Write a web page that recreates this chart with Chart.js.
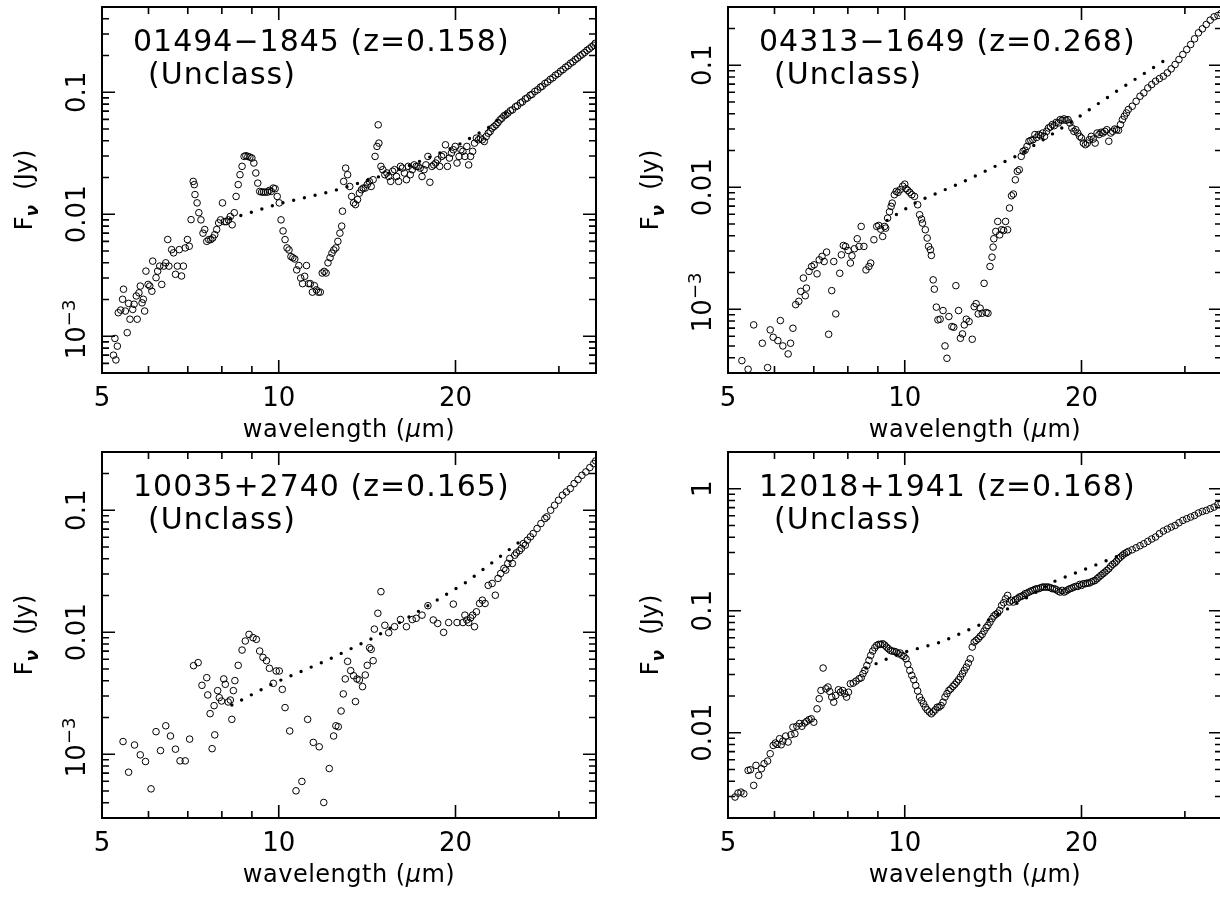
<!DOCTYPE html>
<html>
<head>
<meta charset="utf-8">
<script src="https://cdn.jsdelivr.net/npm/chart.js@4.4.1/dist/chart.umd.min.js"></script>
<style>
  html, body { margin: 0; padding: 0; background: #fff; overflow: hidden; }
  body { width: 1220px; height: 898px; position: relative; }
  canvas { position: absolute; }
</style>
</head>
<body>
<canvas id="p1" width="610" height="450" style="left:0;top:0"></canvas>
<canvas id="p2" width="620" height="450" style="left:610px;top:0"></canvas>
<canvas id="p3" width="610" height="450" style="left:0;top:445px"></canvas>
<canvas id="p4" width="620" height="450" style="left:610px;top:445px"></canvas>
<script>
// eje x común (longitud de onda, µm)
const xLabelTicks = [5, 10, 20];
const xMajorTicks = [10, 20];
const xMinorTicks = [6, 7, 8, 9, 30];

// ---- 01494-1845 ----
const lam01494 = [5.23, 5.28, 5.26, 5.31, 5.33, 5.38, 5.42, 5.44, 5.48, 5.52,
  5.55, 5.58, 5.64, 5.67, 5.72, 5.74, 5.78, 5.81, 5.85, 5.88,
  5.91, 5.94, 5.99, 6.03, 6.08, 6.10, 6.18, 6.22, 6.27, 6.32,
  6.37, 6.42, 6.47, 6.50, 6.57, 6.62, 6.67, 6.72, 6.77, 6.83,
  6.88, 6.93, 6.99, 7.04, 7.09, 7.15, 7.18, 7.20, 7.26, 7.31,
  7.37, 7.43, 7.48, 7.54, 7.60, 7.66, 7.72, 7.78, 7.84, 7.90,
  7.96, 8.02, 8.08, 8.14, 8.21, 8.27, 8.33, 8.40, 8.46, 8.53,
  8.59, 8.66, 8.73, 8.79, 8.86, 8.93, 9.00, 9.07, 9.14, 9.21,
  9.28, 9.35, 9.42, 9.49, 9.57, 9.64, 9.71, 9.79, 9.86, 9.94,
  10.02, 10.09, 10.17, 10.25, 10.33, 10.41, 10.49, 10.57, 10.65, 10.73,
  10.82, 10.90, 10.98, 11.07, 11.15, 11.24, 11.32, 11.41, 11.50, 11.59,
  11.68, 11.77, 11.86, 11.95, 12.04, 12.13, 12.23, 12.32, 12.41, 12.51,
  12.61, 12.71, 12.80, 12.84, 12.90, 13.00, 13.10, 13.21, 13.31, 13.41,
  13.51, 13.62, 13.72, 13.83, 13.93, 14.04, 14.15, 14.26, 14.37, 14.48,
  14.59, 14.70, 14.81, 14.77, 14.93, 15.04, 15.16, 15.28, 15.39, 15.51,
  15.63, 15.75, 15.87, 16.00, 16.12, 16.24, 16.37, 16.50, 16.62, 16.75,
  16.88, 17.01, 17.14, 17.27, 17.41, 17.54, 17.68, 17.81, 17.95, 18.09,
  18.23, 18.37, 18.51, 18.65, 18.80, 18.94, 19.09, 19.23, 19.38, 19.53,
  19.68, 19.83, 19.98, 20.12, 20.28, 20.43, 20.59, 20.75, 20.91, 21.06,
  21.22, 21.39, 21.55, 21.71, 21.88, 22.05, 22.22, 22.39, 22.56, 22.74,
  22.91, 23.09, 23.27, 23.45, 23.63, 23.81, 23.99, 24.18, 24.36, 24.55,
  24.8, 25.0, 25.3, 25.5, 25.8, 26.0, 26.3, 26.5, 26.8, 27.0,
  27.3, 27.6, 27.9, 28.1, 28.4, 28.7, 29.0, 29.3, 29.6, 29.9,
  30.2, 30.5, 30.8, 31.1, 31.4, 31.7, 32.0, 32.3, 32.6, 32.9,
  33.2, 33.5, 33.8, 34.1, 34.4, 34.6];
const flux01494 = [0.00070, 0.00064, 0.00096, 0.00083, 0.00156, 0.00164, 0.00201, 0.00243, 0.00161, 0.00107,
  0.00186, 0.00138, 0.00166, 0.00183, 0.00214, 0.00138, 0.00227, 0.00258, 0.00188, 0.00201,
  0.00161, 0.00342, 0.00266, 0.00258, 0.00234, 0.00413, 0.00302, 0.00342, 0.00376, 0.00266,
  0.00376, 0.00400, 0.00621, 0.00376, 0.00513, 0.00483, 0.00322, 0.00376, 0.00513, 0.00312,
  0.00376, 0.00530, 0.00621, 0.00547, 0.00904, 0.0186, 0.0175, 0.0145, 0.0124, 0.0103,
  0.0090, 0.0070, 0.0075, 0.0060, 0.0062, 0.0062, 0.0064, 0.0068, 0.0075, 0.0085,
  0.0090, 0.0124, 0.0087, 0.0087, 0.0090, 0.0096, 0.0082, 0.0103, 0.0140, 0.0175,
  0.0211, 0.0247, 0.0298, 0.0302, 0.0298, 0.0294, 0.0289, 0.0263, 0.0218, 0.0180,
  0.0154, 0.0152, 0.0152, 0.0152, 0.0152, 0.0157, 0.0154, 0.0164, 0.0162, 0.0140,
  0.0124, 0.0090, 0.0073, 0.0062, 0.0053, 0.0051, 0.0045, 0.0044, 0.0043, 0.0035,
  0.0038, 0.0030, 0.0027, 0.0031, 0.0038, 0.0027, 0.0027, 0.0023, 0.0026, 0.0024,
  0.0023, 0.0023, 0.0033, 0.0034, 0.0033, 0.0040, 0.0044, 0.0048, 0.0051, 0.0053,
  0.0060, 0.0070, 0.0080, 0.0106, 0.0186, 0.0239, 0.0211, 0.0169, 0.0140, 0.0124,
  0.0120, 0.0132, 0.0149, 0.0159, 0.0164, 0.0164, 0.0175, 0.0186, 0.0169, 0.0192,
  0.0298, 0.0360, 0.0383, 0.0541, 0.0247, 0.0232, 0.0211, 0.0218, 0.0204, 0.0186,
  0.0225, 0.0232, 0.0204, 0.0186, 0.0247, 0.0239, 0.0218, 0.0192, 0.0247, 0.0211,
  0.0232, 0.0254, 0.0247, 0.0247, 0.0239, 0.0204, 0.0232, 0.0254, 0.0298, 0.0183,
  0.0247, 0.0254, 0.0263, 0.0280, 0.0247, 0.0298, 0.0307, 0.0371, 0.0247, 0.0289,
  0.0317, 0.0338, 0.0360, 0.0263, 0.0298, 0.0338, 0.0328, 0.0298, 0.0360, 0.0254,
  0.0298, 0.0328, 0.0383, 0.0421, 0.0408, 0.0421, 0.0408, 0.0395, 0.0434, 0.0462,
  0.0477, 0.0508, 0.0524, 0.0541, 0.0565, 0.0594, 0.0613, 0.0641, 0.0653, 0.0674,
  0.0705, 0.0718, 0.0760, 0.0775, 0.0818, 0.0835, 0.0882, 0.0898, 0.0945, 0.0962,
  0.1015, 0.1048, 0.1102, 0.1120, 0.1180, 0.1215, 0.1275, 0.1315, 0.1380, 0.1420,
  0.1490, 0.1535, 0.1605, 0.1650, 0.1730, 0.1775, 0.1855, 0.1910, 0.1990, 0.2050,
  0.2120, 0.2210, 0.2270, 0.2360, 0.2430, 0.2520];
const fitLam01494 = [8.27, 10.0, 12.3, 14.6, 16.8, 20.0, 22.7, 24.7];
const fitFlux01494 = [0.0092, 0.0122, 0.0154, 0.0198, 0.0254, 0.0360, 0.0508, 0.0717];

// ---- 04313-1649 ----
const lam04313 = [5.28, 5.41, 5.53, 5.72, 5.84, 5.90, 5.97, 6.08, 6.14, 6.20,
  6.33, 6.39, 6.45, 6.52, 6.60, 6.65, 6.72, 6.77, 6.80, 6.87,
  6.94, 7.01, 7.09, 7.15, 7.23, 7.29, 7.36, 7.42, 7.51, 7.57,
  7.63, 7.75, 7.80, 7.86, 7.93, 8.01, 8.08, 8.13, 8.21, 8.30,
  8.36, 8.43, 8.52, 8.59, 8.69, 8.75, 8.86, 8.96, 9.03, 9.10,
  9.17, 9.24, 9.28, 9.35, 9.42, 9.48, 9.52, 9.60, 9.67, 9.74,
  9.82, 9.92, 10.0, 10.05, 10.12, 10.20, 10.28, 10.39, 10.52, 10.60,
  10.68, 10.72, 10.84, 10.92, 10.98, 11.06, 11.10, 11.18, 11.23, 11.32,
  11.39, 11.49, 11.62, 11.71, 11.80, 11.89, 12.03, 12.12, 12.22, 12.35,
  12.44, 12.54, 12.63, 12.73, 12.87, 13.03, 13.13, 13.23, 13.34, 13.44,
  13.55, 13.65, 13.76, 13.86, 13.97, 14.08, 14.14, 14.18, 14.29, 14.40,
  14.51, 14.62, 14.74, 14.85, 14.97, 15.08, 15.20, 15.31, 15.43, 15.55,
  15.67, 15.79, 15.91, 16.03, 16.15, 16.28, 16.40, 16.53, 16.66, 16.78,
  16.91, 17.04, 17.17, 17.30, 17.44, 17.57, 17.71, 17.84, 17.98, 18.12,
  18.26, 18.40, 18.54, 18.68, 18.82, 18.97, 19.11, 19.26, 19.41, 19.56,
  19.71, 19.86, 20.0, 20.15, 20.31, 20.46, 20.62, 20.78, 20.94, 21.10,
  21.26, 21.42, 21.59, 21.75, 21.92, 22.09, 22.26, 22.43, 22.60, 22.78,
  22.95, 23.13, 23.30, 23.48, 23.66, 23.85, 24.03, 24.40, 24.78, 25.16,
  25.54, 25.94, 26.34, 26.74, 27.15, 27.57, 28.00, 28.43, 28.87, 29.31,
  29.76, 30.22, 30.69, 31.16, 31.64, 32.13, 32.62, 33.13, 33.64, 34.16,
  34.58];
const flux04313 = [0.000379, 0.000322, 0.000744, 0.000526, 0.000332, 0.000677, 0.000589, 0.000553, 0.000807, 0.000500,
  0.000430, 0.000526, 0.000698, 0.00109, 0.00116, 0.00140, 0.00180, 0.00129, 0.00149, 0.00204,
  0.00224, 0.00231, 0.00195, 0.00254, 0.00271, 0.00246, 0.00294, 0.000623, 0.00142, 0.00246,
  0.000916, 0.00197, 0.00279, 0.00333, 0.00327, 0.00303, 0.00239, 0.00274, 0.00313, 0.00378,
  0.00327, 0.00477, 0.00327, 0.00210, 0.00224, 0.00239, 0.00371, 0.00477, 0.00486, 0.00453,
  0.00395, 0.00477, 0.00462, 0.00558, 0.00629, 0.00696, 0.00741, 0.00868, 0.00924, 0.00907,
  0.00954, 0.0102, 0.0106, 0.00972, 0.00942, 0.00907, 0.00868, 0.00841, 0.00718, 0.00595,
  0.00548, 0.00508, 0.00448, 0.00383, 0.00327, 0.00307, 0.00276, 0.00174, 0.00146, 0.00104,
  0.000818, 0.000828, 0.000975, 0.000500, 0.000396, 0.000871, 0.000721, 0.000712, 0.00156, 0.000975,
  0.000578, 0.000627, 0.000744, 0.000828, 0.000792, 0.000567, 0.00105, 0.00111, 0.000916, 0.00102,
  0.000927, 0.00163, 0.000939, 0.000927, 0.00224, 0.00267, 0.00323, 0.00378, 0.00434, 0.00524,
  0.00407, 0.00448, 0.00442, 0.00524, 0.00448, 0.00675, 0.00851, 0.00879, 0.0115, 0.0135,
  0.0139, 0.0179, 0.0197, 0.0201, 0.0216, 0.0238, 0.0242, 0.0245, 0.0270, 0.0256,
  0.0270, 0.0265, 0.0278, 0.0261, 0.0287, 0.0306, 0.0312, 0.0326, 0.0320, 0.0340,
  0.0336, 0.0358, 0.0354, 0.0363, 0.0354, 0.0358, 0.0336, 0.0306, 0.0287, 0.0296,
  0.0278, 0.0261, 0.0253, 0.0230, 0.0223, 0.0230, 0.0245, 0.0261, 0.0248, 0.0230,
  0.0278, 0.0270, 0.0282, 0.0278, 0.0287, 0.0296, 0.0238, 0.0278, 0.0287, 0.0300,
  0.0296, 0.0293, 0.0326, 0.0358, 0.0382, 0.0406, 0.0433, 0.0461, 0.0506, 0.0557,
  0.0593, 0.0651, 0.0694, 0.0739, 0.0777, 0.0812, 0.0865, 0.0933, 0.1013, 0.1113,
  0.1224, 0.1344, 0.1478, 0.1645, 0.1842, 0.1987, 0.2157, 0.2341, 0.2492, 0.2557,
  0.2655];
const fitLam04313 = [9.33, 10.52, 12.44, 15.67, 19.11, 22.95, 28.43];
const fitFlux04313 = [0.00535, 0.00765, 0.0108, 0.0185, 0.0336, 0.0612, 0.1186];

// ---- 10035+2740 ----
const lam10035 = [5.43, 5.55, 5.68, 5.81, 5.93, 6.06, 6.18, 6.29, 6.42, 6.54,
  6.67, 6.79, 6.93, 7.05, 7.16, 7.29, 7.40, 7.54, 7.57, 7.64,
  7.70, 7.76, 7.78, 7.87, 7.92, 7.99, 8.06, 8.11, 8.20, 8.27,
  8.32, 8.37, 8.42, 8.53, 8.66, 8.77, 8.90, 9.04, 9.16, 9.28,
  9.40, 9.53, 9.64, 9.90, 10.02, 9.79, 10.14, 10.25, 10.44, 10.70,
  10.95, 11.20, 11.45, 11.72, 11.93, 12.19, 12.40, 12.51, 12.63, 12.77,
  12.88, 12.98, 13.10, 13.26, 13.41, 13.51, 13.59, 13.72, 13.89, 14.04,
  14.15, 14.28, 14.37, 14.48, 14.55, 14.75, 14.93, 15.16, 15.39, 15.75,
  16.12, 16.50, 16.88, 17.14, 17.54, 17.95, 18.33, 18.65, 19.09, 19.47,
  19.83, 20.12, 20.59, 20.75, 20.91, 21.06, 21.22, 21.39, 21.55, 21.71,
  21.98, 22.22, 22.46, 22.74, 23.09, 23.38, 23.63, 23.88, 24.18, 24.36,
  24.55, 24.74, 25.00, 25.23, 25.39, 25.70, 25.90, 26.10, 26.30, 26.51,
  26.83, 27.12, 27.54, 27.96, 28.40, 28.61, 29.05, 29.50, 29.96, 30.42,
  30.89, 31.37, 31.85, 32.34, 32.84, 33.35, 33.87, 34.39, 34.66];
const flux10035 = [0.00127, 0.000712, 0.00119, 0.000988, 0.000871, 0.000520, 0.00153, 0.00107, 0.00171, 0.00141,
  0.00110, 0.000882, 0.000882, 0.00133, 0.00532, 0.00563, 0.00367, 0.00424, 0.00306, 0.00215,
  0.00111, 0.00250, 0.00144, 0.00332, 0.00291, 0.00273, 0.00414, 0.00374, 0.00268, 0.00278,
  0.00193, 0.00332, 0.00401, 0.00535, 0.00714, 0.00847, 0.00960, 0.00902, 0.00874, 0.00701,
  0.00622, 0.00584, 0.00506, 0.00481, 0.00481, 0.00381, 0.00340, 0.00241, 0.00155, 0.000501,
  0.000598, 0.00193, 0.00125, 0.00115, 0.000402, 0.000763, 0.00141, 0.00171, 0.00168, 0.00226,
  0.00312, 0.00414, 0.00577, 0.00484, 0.00440, 0.00270, 0.00414, 0.00406, 0.00358, 0.00446,
  0.00535, 0.00746, 0.00723, 0.00584, 0.0106, 0.0143, 0.0215, 0.0114, 0.00991, 0.0111,
  0.0127, 0.0111, 0.0127, 0.0130, 0.0138, 0.0165, 0.0126, 0.0118, 0.00997, 0.0120,
  0.0170, 0.0120, 0.0120, 0.0138, 0.0126, 0.0120, 0.0131, 0.0138, 0.0111, 0.0147,
  0.0172, 0.0183, 0.0172, 0.0242, 0.0251, 0.0201, 0.0276, 0.0303, 0.0333, 0.0323,
  0.0366, 0.0402, 0.0366, 0.0428, 0.0447, 0.0465, 0.0486, 0.0533, 0.0517, 0.0568,
  0.0605, 0.0644, 0.0708, 0.0778, 0.0855, 0.0882, 0.100, 0.1099, 0.1207, 0.1327,
  0.1413, 0.1505, 0.1653, 0.1782, 0.1934, 0.2060, 0.2236, 0.2409, 0.2534];
const fitLam10035 = [8.32, 9.79, 12.04, 14.63, 17.95, 20.91, 26.10];
const fitFlux10035 = [0.00253, 0.00381, 0.00584, 0.00919, 0.0165, 0.0259, 0.0582];

// ---- 12018+1941 ----
const lam12018 = [5.14, 5.20, 5.26, 5.32, 5.41, 5.46, 5.53, 5.58, 5.64, 5.70,
  5.76, 5.84, 5.90, 5.97, 6.02, 6.06, 6.12, 6.16, 6.20, 6.27,
  6.33, 6.40, 6.45, 6.50, 6.55, 6.62, 6.68, 6.75, 6.81, 6.87,
  6.93, 7.00, 7.09, 7.15, 7.20, 7.26, 7.34, 7.40, 7.45, 7.51,
  7.57, 7.63, 7.71, 7.77, 7.84, 7.90, 7.96, 8.02, 8.08, 8.17,
  8.26, 8.36, 8.43, 8.49, 8.55, 8.62, 8.69, 8.75, 8.82, 8.89,
  8.96, 9.03, 9.10, 9.17, 9.24, 9.31, 9.38, 9.45, 9.52, 9.60,
  9.67, 9.74, 9.82, 9.89, 9.97, 10.05, 10.12, 10.20, 10.28, 10.36,
  10.44, 10.52, 10.60, 10.68, 10.76, 10.84, 10.92, 11.01, 11.10, 11.18,
  11.27, 11.36, 11.44, 11.53, 11.62, 11.71, 11.80, 11.89, 11.98, 12.08,
  12.17, 12.26, 12.35, 12.44, 12.54, 12.63, 12.73, 12.83, 12.93, 13.03,
  13.13, 13.23, 13.34, 13.44, 13.55, 13.65, 13.76, 13.86, 13.97, 14.08,
  14.18, 14.29, 14.40, 14.51, 14.62, 14.74, 14.85, 14.97, 15.08, 15.20,
  15.31, 15.43, 15.55, 15.67, 15.79, 15.91, 16.03, 16.15, 16.28, 16.40,
  16.53, 16.66, 16.78, 16.91, 17.04, 17.17, 17.30, 17.44, 17.57, 17.71,
  17.84, 17.98, 18.12, 18.26, 18.40, 18.54, 18.68, 18.82, 18.97, 19.11,
  19.26, 19.41, 19.56, 19.71, 19.86, 20.00, 20.15, 20.31, 20.46, 20.62,
  20.78, 20.94, 21.10, 21.26, 21.42, 21.59, 21.75, 21.92, 22.09, 22.26,
  22.43, 22.60, 22.78, 22.95, 23.13, 23.30, 23.48, 23.66, 23.85, 24.03,
  24.40, 24.78, 25.16, 25.54, 25.94, 26.34, 26.74, 27.15, 27.57, 28.00,
  28.43, 28.87, 29.31, 29.76, 30.22, 30.69, 31.16, 31.64, 32.13, 32.62,
  33.13, 33.64, 34.16, 34.58];
const flux12018 = [0.00297, 0.00320, 0.00326, 0.00316, 0.00491, 0.00497, 0.00370, 0.00540, 0.00447, 0.00507,
  0.00557, 0.00586, 0.00673, 0.00787, 0.00823, 0.00802, 0.00893, 0.00797, 0.00855, 0.00939,
  0.00839, 0.00963, 0.0111, 0.00981, 0.0113, 0.0119, 0.0113, 0.0120, 0.0124, 0.0128,
  0.0130, 0.0122, 0.0157, 0.0190, 0.0222, 0.0339, 0.0229, 0.0237, 0.0218, 0.0196,
  0.0178, 0.0202, 0.0225, 0.0215, 0.0222, 0.0209, 0.0196, 0.0215, 0.0252, 0.0255,
  0.0265, 0.0277, 0.0282, 0.0305, 0.0324, 0.0356, 0.0392, 0.0430, 0.0467, 0.0497,
  0.0520, 0.0530, 0.0530, 0.0536, 0.0523, 0.0504, 0.0488, 0.0473, 0.0467, 0.0464,
  0.0458, 0.0444, 0.0450, 0.0430, 0.0422, 0.0404, 0.0363, 0.0324, 0.0295, 0.0272,
  0.0244, 0.0220, 0.0196, 0.0184, 0.0173, 0.0162, 0.0154, 0.0148, 0.0143, 0.0148,
  0.0154, 0.0162, 0.0162, 0.0167, 0.0178, 0.0196, 0.0209, 0.0222, 0.0229, 0.0240,
  0.0249, 0.0260, 0.0272, 0.0286, 0.0305, 0.0324, 0.0345, 0.0372, 0.0404, 0.0504,
  0.0553, 0.0571, 0.0589, 0.0616, 0.0640, 0.0681, 0.0726, 0.0758, 0.0807, 0.0860,
  0.0904, 0.0933, 0.0957, 0.1006, 0.1106, 0.1163, 0.1254, 0.1335, 0.1178, 0.1215,
  0.1178, 0.1231, 0.1254, 0.1294, 0.1310, 0.1335, 0.1378, 0.1395, 0.1422, 0.1449,
  0.1468, 0.1496, 0.1515, 0.1515, 0.1543, 0.1563, 0.1563, 0.1563, 0.1563, 0.1543,
  0.1515, 0.1515, 0.1486, 0.1449, 0.1422, 0.1468, 0.1422, 0.1449, 0.1486, 0.1515,
  0.1534, 0.1563, 0.1583, 0.1583, 0.1643, 0.1613, 0.1665, 0.1665, 0.1686, 0.1686,
  0.172, 0.175, 0.177, 0.183, 0.189, 0.195, 0.201, 0.207, 0.214, 0.221,
  0.231, 0.240, 0.246, 0.255, 0.267, 0.275, 0.284, 0.293, 0.299, 0.306,
  0.316, 0.328, 0.341, 0.354, 0.370, 0.387, 0.402, 0.428, 0.450, 0.467,
  0.485, 0.500, 0.526, 0.550, 0.568, 0.586, 0.604, 0.632, 0.652, 0.664,
  0.686, 0.707, 0.744, 0.763];
const fitLam12018 = [8.59, 9.77, 11.53, 13.55, 17.98, 23.23];
const fitFlux12018 = [0.0339, 0.0444, 0.0553, 0.0782, 0.174, 0.284];

// etiquetas del eje y (valor, texto, superíndice)
const yTicks3 = [0.1, 0.01, 0.001];
const yTickText3 = ['0.1', '0.01', '10^−3'];
const yTicks4 = [1, 0.1, 0.01];
const yTickText4 = ['1', '0.1', '0.01'];

const FONT = '"DejaVu Sans", "Liberation Sans", sans-serif';

const panels = [
  { id: 'p1', name: '01494−1845', z: '0.158', lam: lam01494, flux: flux01494,
    fitLam: fitLam01494, fitFlux: fitFlux01494, yMin: 5e-4, yMax: 0.5,
    yTicks: yTicks3, yText: yTickText3, axisWidth: 102, padRight: 14 },
  { id: 'p2', name: '04313−1649', z: '0.268', lam: lam04313, flux: flux04313,
    fitLam: fitLam04313, fitFlux: fitFlux04313, yMin: 3e-4, yMax: 0.3,
    yTicks: yTicks3, yText: yTickText3, axisWidth: 118, padRight: 8 },
  { id: 'p3', name: '10035+2740', z: '0.165', lam: lam10035, flux: flux10035,
    fitLam: fitLam10035, fitFlux: fitFlux10035, yMin: 3e-4, yMax: 0.3,
    yTicks: yTicks3, yText: yTickText3, axisWidth: 102, padRight: 14 },
  { id: 'p4', name: '12018+1941', z: '0.168', lam: lam12018, flux: flux12018,
    fitLam: fitLam12018, fitFlux: fitFlux12018, yMin: 2e-3, yMax: 2,
    yTicks: yTicks4, yText: yTickText4, axisWidth: 118, padRight: 8 }
];

function toPoints(xs, ys) {
  return xs.map((v, i) => ({ x: v, y: ys[i] }));
}

// dibuja varias piezas de texto seguidas, cada una con su fuente y desplazamiento
function drawRuns(ctx, runs, x0, y0) {
  let x = x0;
  for (const r of runs) {
    ctx.font = r.font;
    ctx.fillText(r.text, x, y0 + (r.dy || 0));
    x += ctx.measureText(r.text).width;
  }
}
function runsWidth(ctx, runs) {
  let w = 0;
  for (const r of runs) { ctx.font = r.font; w += ctx.measureText(r.text).width; }
  return w;
}

function framePlugin(p) {
  return {
    id: 'marco',
    afterDraw(chart) {
      const { ctx, chartArea: a } = chart;
      const x = chart.scales.x, y = chart.scales.y;
      ctx.save();
      ctx.strokeStyle = '#000';
      ctx.fillStyle = '#000';

      // marcas hacia dentro en los cuatro lados
      ctx.lineWidth = 1.6;
      ctx.beginPath();
      const xt = (v, len) => {
        const px = x.getPixelForValue(v);
        ctx.moveTo(px, a.bottom); ctx.lineTo(px, a.bottom - len);
        ctx.moveTo(px, a.top); ctx.lineTo(px, a.top + len);
      };
      xMajorTicks.forEach(v => xt(v, 13));
      xMinorTicks.forEach(v => xt(v, 7));
      const yt = (v, len) => {
        const py = y.getPixelForValue(v);
        if (py < a.top + 1 || py > a.bottom - 1) return;
        ctx.moveTo(a.left, py); ctx.lineTo(a.left + len, py);
        ctx.moveTo(a.right, py); ctx.lineTo(a.right - len, py);
      };
      for (let e = -5; e <= 1; e++) {
        const d = Math.pow(10, e);
        yt(d, 13);
        for (let k = 2; k <= 9; k++) yt(k * d, 7);
      }
      ctx.stroke();
      ctx.lineWidth = 2;
      ctx.strokeRect(a.left, a.top, a.right - a.left, a.bottom - a.top);

      // etiquetas del eje x
      ctx.font = '26px ' + FONT;
      ctx.textAlign = 'center';
      ctx.textBaseline = 'alphabetic';
      xLabelTicks.forEach(v => ctx.fillText(String(v), x.getPixelForValue(v), a.bottom + 33));

      // título del eje x
      ctx.textAlign = 'left';
      ctx.letterSpacing = '0.5px';
      const xr = [
        { text: 'wavelength (', font: '24px ' + FONT },
        { text: 'μ', font: 'italic 24px ' + FONT },
        { text: 'm)', font: '24px ' + FONT }
      ];
      drawRuns(ctx, xr, (a.left + a.right) / 2 - runsWidth(ctx, xr) / 2, a.bottom + 64);
      ctx.letterSpacing = '0px';

      // etiquetas del eje y, giradas
      p.yTicks.forEach((v, i) => {
        const py = y.getPixelForValue(v);
        ctx.save();
        ctx.translate(a.left - 17, py);
        ctx.rotate(-Math.PI / 2);
        const t = p.yText[i];
        if (t.includes('^')) {
          const [base, sup] = t.split('^');
          ctx.textAlign = 'left';
          drawRuns(ctx, [
            { text: base, font: '26px ' + FONT },
            { text: sup, font: '18px ' + FONT, dy: -10 }
          ], -23, 0);
        } else {
          ctx.font = '26px ' + FONT;
          ctx.textAlign = 'center';
          ctx.fillText(t, 0, 0);
        }
        ctx.restore();
      });

      // título del eje y: F_ν (Jy)
      ctx.save();
      ctx.translate(a.left - 70, (a.top + a.bottom) / 2);
      ctx.rotate(-Math.PI / 2);
      ctx.textAlign = 'left';
      const yr = [
        { text: 'F', font: '24px ' + FONT },
        { text: 'ν', font: 'italic bold 17px ' + FONT, dy: 6 },
        { text: '  (Jy)', font: '24px ' + FONT }
      ];
      drawRuns(ctx, yr, -runsWidth(ctx, yr) / 2, 0);
      ctx.restore();

      // nombre del objeto y clase
      ctx.font = '30px ' + FONT;
      ctx.textAlign = 'left';
      ctx.letterSpacing = '1px';
      ctx.fillText(p.name + ' (z=' + p.z + ')', a.left + 31, a.top + 44);
      ctx.fillText('(Unclass)', a.left + 46, a.top + 77);
      ctx.letterSpacing = '0px';
      ctx.restore();
    }
  };
}

for (const p of panels) {
  new Chart(document.getElementById(p.id), {
    type: 'scatter',
    data: {
      datasets: [
        {
          data: toPoints(p.fitLam, p.fitFlux),
          showLine: true,
          pointRadius: 0,
          borderColor: '#000',
          borderWidth: 3.4,
          borderDash: [0, 11],
          borderCapStyle: 'round',
          tension: 0
        },
        {
          data: toPoints(p.lam, p.flux),
          pointRadius: 3.3,
          pointBorderWidth: 1,
          pointBorderColor: '#000',
          pointBackgroundColor: 'rgba(0,0,0,0)'
        }
      ]
    },
    options: {
      responsive: false,
      animation: false,
      events: [],
      layout: { padding: { top: 7, right: p.padRight, left: 0, bottom: 0 } },
      plugins: { legend: { display: false }, tooltip: { enabled: false } },
      scales: {
        x: {
          type: 'logarithmic', min: 5, max: 34.7,
          ticks: { display: false }, grid: { display: false }, border: { display: false },
          afterFit: s => { s.height = 77; }
        },
        y: {
          type: 'logarithmic', min: p.yMin, max: p.yMax,
          ticks: { display: false }, grid: { display: false }, border: { display: false },
          afterFit: s => { s.width = p.axisWidth; }
        }
      }
    },
    plugins: [framePlugin(p)]
  });
}
</script>
</body>
</html>
